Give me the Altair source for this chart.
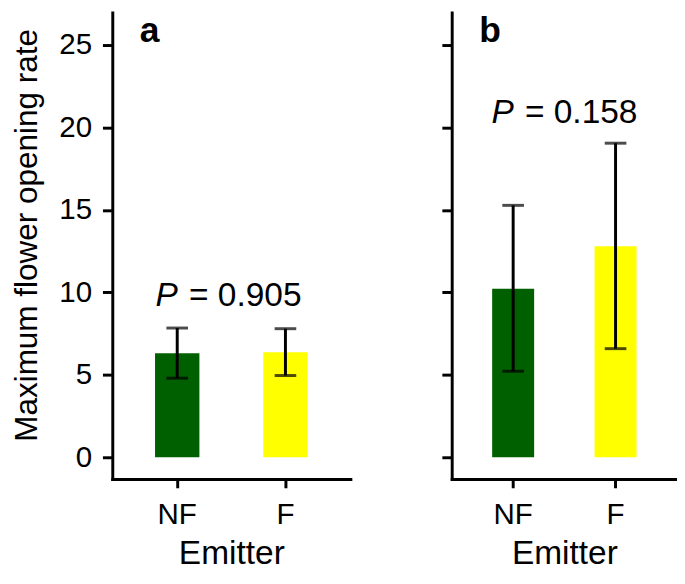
import altair as alt
import pandas as pd

emitters = ["NF", "F"]
colors = ["#006000", "#FFFF00"]

panel_a_mean = [6.31, 6.37]
panel_a_lo = [4.80, 4.96]
panel_a_hi = [7.84, 7.80]

panel_b_mean = [10.22, 12.80]
panel_b_lo = [5.22, 6.59]
panel_b_hi = [15.28, 19.05]

p_values = ["0.905", "0.158"]
p_label_y = [9.2, 20.25]
panel_letters = ["a", "b"]
y_ticks = [0, 5, 10, 15, 20, 25]

FONT = "Liberation Sans"
Y_DOMAIN = [-1.31, 26.97]


def panel(means, los, his, pval, py, letter, width, first):
    df = pd.DataFrame({"Emitter": emitters, "mean": means, "lo": los, "hi": his})
    x = alt.X(
        "Emitter:N",
        sort=emitters,
        scale=alt.Scale(paddingInner=0.59, paddingOuter=0.395),
        axis=alt.Axis(title="Emitter", labelAngle=0),
    )
    if first:
        yaxis = alt.Axis(values=y_ticks, title="Maximum flower opening rate", titleY=226)
    else:
        yaxis = alt.Axis(values=y_ticks, title=None, labels=False)
    y = alt.Y("mean:Q", scale=alt.Scale(domain=Y_DOMAIN, nice=False, zero=False), axis=yaxis)

    base = alt.Chart(df)
    bars = base.mark_bar().encode(
        x=x,
        y=y,
        y2=alt.datum(0),
        color=alt.Color("Emitter:N", scale=alt.Scale(domain=emitters, range=colors), legend=None),
    )
    rule = base.mark_rule(color="black", strokeWidth=3).encode(x=x, y="lo:Q", y2="hi:Q")
    cap_lo = base.mark_tick(color="black", size=22, thickness=3).encode(x=x, y="lo:Q")
    cap_hi = base.mark_tick(color="black", size=22, thickness=3).encode(x=x, y="hi:Q")

    tdf = pd.DataFrame({"Emitter": ["NF"], "py": [py]})
    tbase = alt.Chart(tdf)
    p_text = tbase.mark_text(
        text="P", fontStyle="italic", align="left", baseline="alphabetic",
        dx=-22, fontSize=34, font=FONT, color="black",
    ).encode(x=x, y="py:Q")
    v_text = tbase.mark_text(
        text="= " + pval, align="left", baseline="alphabetic",
        dx=12, fontSize=34, font=FONT, color="black",
    ).encode(x=x, y="py:Q")
    letter_text = tbase.mark_text(
        text=letter, fontWeight="bold", align="left", baseline="alphabetic",
        fontSize=36, font=FONT, color="black",
    ).encode(x=alt.value(28), y=alt.datum(25.2))

    return alt.layer(bars, rule, cap_lo, cap_hi, p_text, v_text, letter_text).properties(
        width=width, height=474
    )


left = panel(panel_a_mean, panel_a_lo, panel_a_hi, p_values[0], p_label_y[0], panel_letters[0], 242, True)
right = panel(panel_b_mean, panel_b_lo, panel_b_hi, p_values[1], p_label_y[1], panel_letters[1], 229, False)

chart = (
    alt.hconcat(left, right, spacing=91)
    .properties(padding={"left": 2, "top": 0, "right": 0, "bottom": 0})
    .configure_view(stroke=None)
    .configure_axis(
        grid=False,
        domainColor="black",
        domainWidth=3,
        domainCap="square",
        tickColor="black",
        tickWidth=3,
        tickSize=10,
        labelFont=FONT,
        labelFontSize=30,
        labelColor="black",
        labelPadding=11,
        titleFont=FONT,
        titleFontSize=34,
        titleFontWeight="normal",
        titleColor="black",
        titlePadding=14,
    )
    .configure_axisY(titleFontSize=32, titlePadding=16)
    .configure_axisX(tickSize=9, labelPadding=12, titlePadding=8)
)

chart.save("out.html", embed_options={"renderer": "svg", "actions": False})
